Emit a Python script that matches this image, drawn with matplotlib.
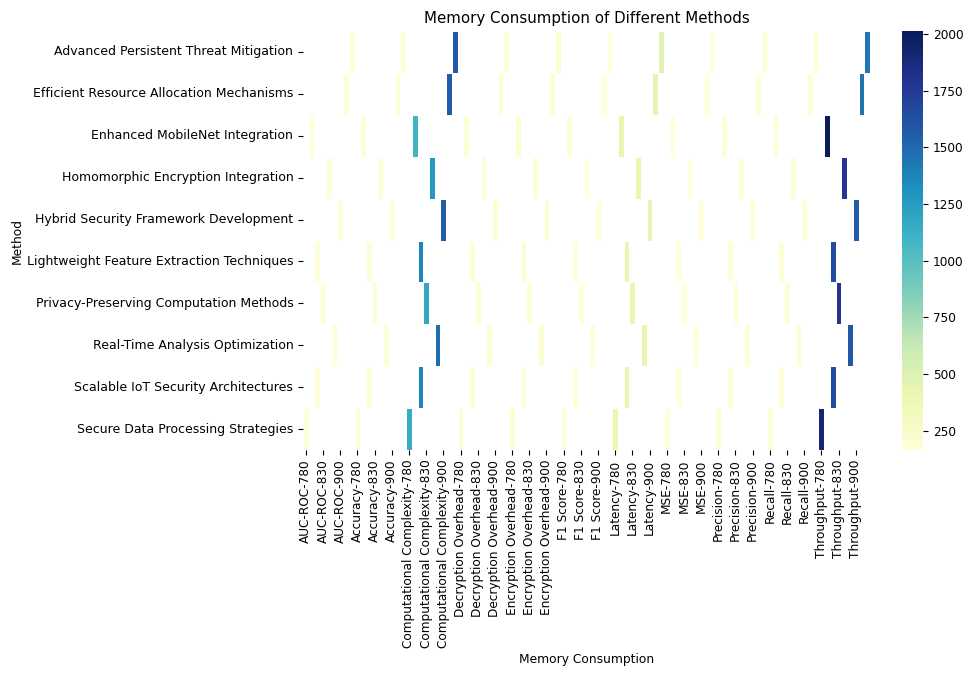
import numpy as np
import pandas as pd
import matplotlib
matplotlib.use("Agg")
import matplotlib.pyplot as plt
import seaborn as sns

methods = [
    "Advanced Persistent Threat Mitigation",
    "Efficient Resource Allocation Mechanisms",
    "Enhanced MobileNet Integration",
    "Homomorphic Encryption Integration",
    "Hybrid Security Framework Development",
    "Lightweight Feature Extraction Techniques",
    "Privacy-Preserving Computation Methods",
    "Real-Time Analysis Optimization",
    "Scalable IoT Security Architectures",
    "Secure Data Processing Strategies",
]
memory = [950, 920, 800, 850, 900, 820, 830, 870, 820, 780]

metrics = ["AUC-ROC", "Accuracy", "Computational Complexity", "Decryption Overhead",
           "Encryption Overhead", "F1 Score", "Latency", "MSE", "Precision",
           "Recall", "Throughput"]

auc_roc = [180, 178, 176, 182, 179, 177, 181, 183, 175, 184]
accuracy = [190, 186, 188, 192, 185, 187, 189, 191, 193, 194]
comp_complexity = [1570, 1560, 1090, 1270, 1560, 1365, 1180, 1475, 1365, 1160]
decryption = [200, 198, 205, 196, 202, 199, 201, 197, 203, 204]
encryption = [210, 208, 212, 206, 209, 211, 207, 213, 205, 214]
f1_score = [172, 170, 174, 169, 171, 173, 168, 175, 167, 176]
latency = [480, 440, 430, 420, 450, 425, 415, 435, 425, 410]
mse = [165, 166, 168, 167, 169, 170, 171, 166, 172, 168]
precision = [185, 183, 187, 182, 184, 186, 181, 188, 180, 189]
recall = [195, 193, 197, 192, 194, 196, 191, 198, 190, 199]
throughput = [1440, 1460, 2013, 1775, 1550, 1640, 1790, 1590, 1640, 1920]

series = [auc_roc, accuracy, comp_complexity, decryption, encryption, f1_score,
          latency, mse, precision, recall, throughput]

rows = []
for metric, vals in zip(metrics, series):
    for m, mem, v in zip(methods, memory, vals):
        rows.append({"Method": m, "Metric": metric, "Memory": mem, "Value": v})
df = pd.DataFrame(rows)
pivot = df.pivot_table(index="Method", columns=["Metric", "Memory"], values="Value")

fig = plt.figure(figsize=(9.63, 6.75), dpi=100)
W, H = 963, 675
ax = fig.add_axes([303 / W, 1 - 450 / H, (870 - 303) / W, (450 - 31) / H])
cax = fig.add_axes([902 / W, 1 - 450 / H, (923 - 902) / W, (450 - 31) / H])

sns.heatmap(pivot, cmap="YlGnBu", ax=ax, cbar_ax=cax, linewidths=0.5, linecolor="white",
            xticklabels=False, yticklabels=True)

fs = 9.0
cols = list(pivot.columns)
idx = list(range(0, len(cols), 3))
ax.set_xticks([i + 0.5 for i in idx])
ax.set_xticklabels([f"{cols[i][0]}-{cols[i][1]}" for i in idx], rotation=90, fontsize=8.7)
ax.set_yticks(np.arange(len(pivot.index)) + 0.5)
ax.set_yticklabels(pivot.index, rotation=0, fontsize=fs)
ax.set_xlabel("Memory Consumption", fontsize=8.8, labelpad=3)
ax.set_ylabel("Method", fontsize=8.8, labelpad=2)
ax.set_title("Memory Consumption of Different Methods", fontsize=10.8, pad=6)
cax.tick_params(labelsize=8.7)
cax.set_yticks([250, 500, 750, 1000, 1250, 1500, 1750, 2000])

fig.savefig("out.png", dpi=100)
